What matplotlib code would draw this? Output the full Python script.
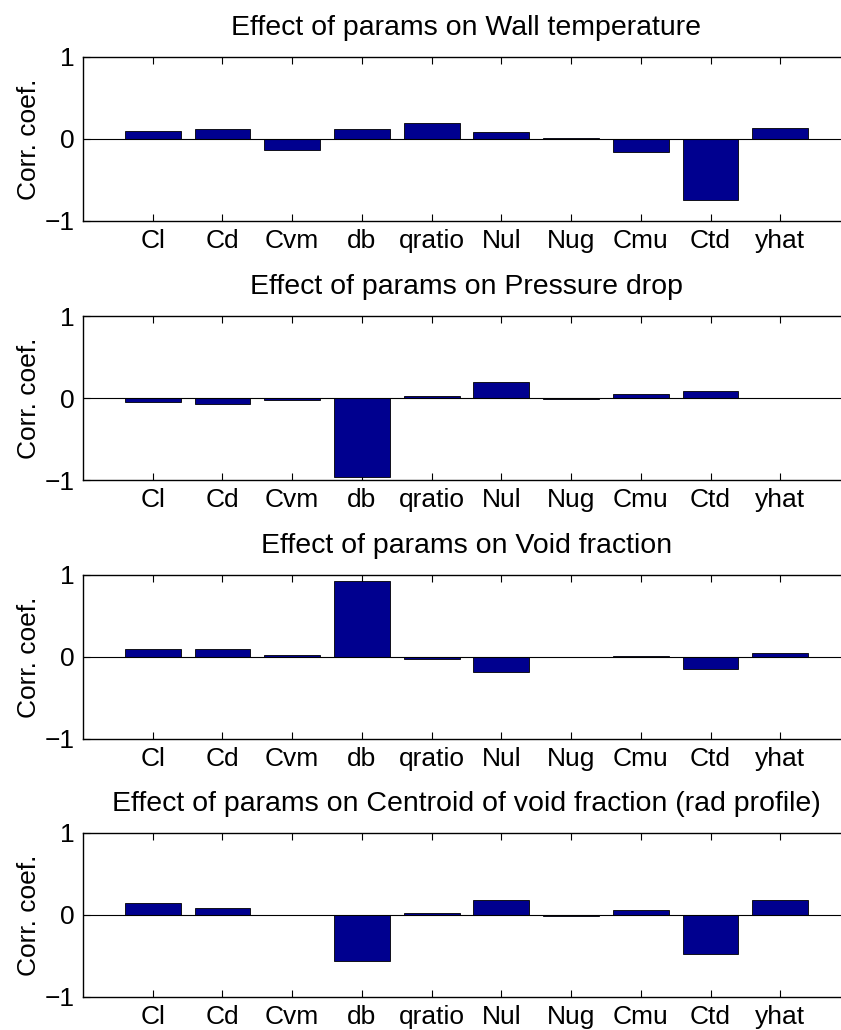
import matplotlib
matplotlib.use("Agg")
import matplotlib.pyplot as plt
import numpy as np

plt.rcParams['font.family'] = ['Liberation Sans', 'DejaVu Sans']

params = ["Cl", "Cd", "Cvm", "db", "qratio", "Nul", "Nug", "Cmu", "Ctd", "yhat"]
titles = [
    "Effect of params on Wall temperature",
    "Effect of params on Pressure drop",
    "Effect of params on Void fraction",
    "Effect of params on Centroid of void fraction (rad profile)",
]
wall_temperature = [0.10, 0.124, -0.13, 0.116, 0.19, 0.08, 0.016, -0.16, -0.74, 0.13]
pressure_drop = [-0.05, -0.07, -0.03, -0.96, 0.02, 0.19, -0.01, 0.05, 0.085, 0.005]
void_fraction = [0.093, 0.093, 0.03, 0.93, -0.03, -0.18, 0.0, 0.01, -0.15, 0.05]
centroid_void = [0.15, 0.08, 0.003, -0.56, 0.03, 0.185, -0.015, 0.055, -0.48, 0.18]
series = [wall_temperature, pressure_drop, void_fraction, centroid_void]

W, H = 841, 1030
fig = plt.figure(figsize=(W / 100, H / 100), dpi=100)

tops = [57, 316, 575, 833]
ax_h = 164
left_px, width_px = 83, 767
bar_color = (0, 0, 0.5625)
fs_tick = 19
fs_title = 20.5

x = np.arange(1, len(params) + 1)
for top, title, vals in zip(tops, titles, series):
    ax = fig.add_axes([left_px / W, 1 - (top + ax_h) / H, width_px / W, ax_h / H])
    ax.bar(x, vals, width=0.8, color=bar_color, edgecolor='black', linewidth=0.6, zorder=2)
    ax.axhline(0, color='black', linewidth=0.8, zorder=3)
    ax.set_xlim(0, 11)
    ax.set_ylim(-1, 1)
    ax.set_xticks(x)
    ax.set_xticklabels(params, fontsize=fs_tick)
    ax.set_yticks([-1, 0, 1])
    ax.set_yticklabels(["\u22121", "0", "1"], fontsize=fs_tick)
    ax.tick_params(direction='in', top=True, right=True, length=5, width=0.8, pad=6)
    ax.set_ylabel("Corr. coef.", fontsize=fs_tick, labelpad=3)
    ax.set_title(title, fontsize=fs_title, pad=16)
    for s in ax.spines.values():
        s.set_linewidth(1.0)

fig.savefig("out.png", dpi=100)
